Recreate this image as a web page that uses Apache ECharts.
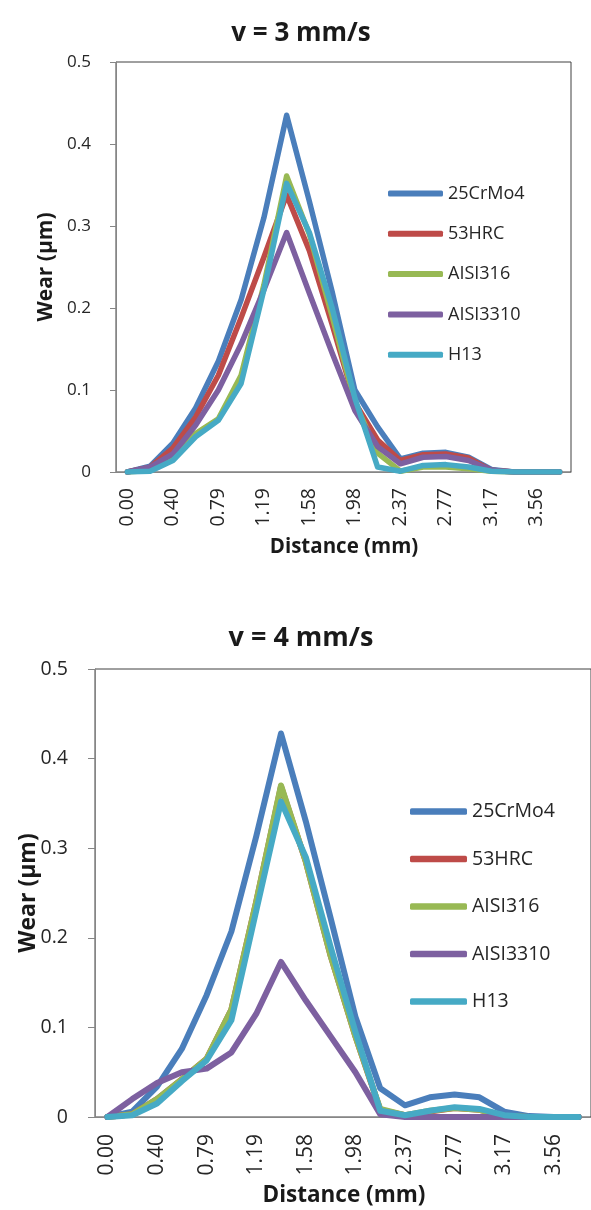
<!DOCTYPE html>
<html>
<head>
<meta charset="utf-8">
<script src="https://cdn.jsdelivr.net/npm/echarts@6/dist/echarts.min.js"></script>
<style>
html,body{margin:0;padding:0;background:#fff;}
#c1{position:absolute;left:0;top:0;width:591px;height:605px;}
#c2{position:absolute;left:0;top:605px;width:591px;height:605px;}
</style>
</head>
<body>
<div id="c1"></div>
<div id="c2"></div>
<script>
// Category labels (Distance, mm)
const distances = ['0.00','0.20','0.40','0.59','0.79','0.99','1.19','1.38','1.58','1.78','1.98','2.18','2.37','2.57','2.77','2.97','3.17','3.36','3.56','3.76'];
const seriesNames = ['25CrMo4','53HRC','AISI316','AISI3310','H13'];
const seriesColors = ['#4A7EBB','#BE4B48','#98B954','#7D60A0','#46AAC5'];
const yTicks = [0, 0.1, 0.2, 0.3, 0.4, 0.5];

// v = 3 mm/s
const v3_25CrMo4 = [0, 0.007, 0.035, 0.078, 0.135, 0.21, 0.31, 0.435, 0.33, 0.22, 0.1, 0.055, 0.016, 0.023, 0.024, 0.018, 0.003, 0, 0, 0];
const v3_53HRC   = [0, 0.006, 0.029, 0.067, 0.118, 0.188, 0.262, 0.338, 0.27, 0.18, 0.085, 0.039, 0.014, 0.021, 0.022, 0.017, 0.002, 0, 0, 0];
const v3_AISI316 = [0, 0.002, 0.016, 0.047, 0.065, 0.118, 0.228, 0.361, 0.29, 0.19, 0.085, 0.023, 0.001, 0.006, 0.006, 0.004, 0.001, 0, 0, 0];
const v3_AISI3310= [0, 0.006, 0.022, 0.057, 0.1, 0.156, 0.222, 0.292, 0.218, 0.145, 0.075, 0.031, 0.01, 0.018, 0.019, 0.014, 0.002, 0, 0, 0];
const v3_H13     = [0, 0.001, 0.014, 0.043, 0.063, 0.108, 0.222, 0.352, 0.292, 0.2, 0.09, 0.006, 0.001, 0.008, 0.009, 0.006, 0.001, 0, 0, 0];

// v = 4 mm/s
const v4_25CrMo4 = [0, 0.006, 0.034, 0.076, 0.136, 0.207, 0.313, 0.428, 0.33, 0.222, 0.112, 0.032, 0.013, 0.022, 0.025, 0.022, 0.006, 0.001, 0, 0];
const v4_53HRC   = [0, 0.003, 0.02, 0.042, 0.065, 0.12, 0.24, 0.369, 0.285, 0.18, 0.09, 0.008, 0.002, 0.006, 0.01, 0.008, 0.001, 0, 0, 0];
const v4_AISI316 = [0, 0.003, 0.02, 0.042, 0.065, 0.12, 0.24, 0.37, 0.285, 0.18, 0.09, 0.009, 0.002, 0.007, 0.01, 0.008, 0.001, 0, 0, 0];
const v4_AISI3310= [0, 0.02, 0.038, 0.05, 0.054, 0.072, 0.115, 0.173, 0.13, 0.09, 0.05, 0.003, 0, 0, 0, 0, 0, 0, 0, 0];
const v4_H13     = [0, 0.002, 0.015, 0.04, 0.063, 0.108, 0.23, 0.352, 0.29, 0.19, 0.095, 0.007, 0.002, 0.007, 0.011, 0.009, 0.002, 0, 0, 0];

const FONT = '"Open Sans", "Liberation Sans", sans-serif';

function build(el, data, L) {
  const chart = echarts.init(el, null, {renderer: 'canvas'});
  chart.setOption({
    animation: false,
    backgroundColor: '#fff',
    grid: {left: L.left, top: L.top, width: L.width, height: L.height, show: true,
           borderColor: '#404040', borderWidth: 1, backgroundColor: 'transparent'},
    legend: {
      orient: 'vertical', left: L.legLeft, top: L.legTop, padding: 0,
      icon: 'roundRect',
      itemWidth: L.legW, itemHeight: L.legH, itemGap: L.legGap,
      data: seriesNames,
      textStyle: {fontFamily: FONT, fontSize: L.legFont, color: '#262626', lineHeight: 20}
    },
    xAxis: {
      type: 'category', data: distances, boundaryGap: true,
      axisLine: {lineStyle: {color: '#868686', width: 1}},
      axisTick: {show: false},
      axisLabel: {interval: 1, rotate: 90, margin: L.xMargin, fontFamily: FONT, fontSize: L.xFont, color: '#262626'},
      splitLine: {show: false}
    },
    yAxis: {
      type: 'value', min: yTicks[0], max: yTicks[yTicks.length-1], interval: 0.1,
      axisLine: {show: true, lineStyle: {color: '#868686', width: 1}},
      axisTick: {show: true, length: L.tickLen, lineStyle: {color: '#868686'}},
      axisLabel: {margin: L.yMargin, fontFamily: FONT, fontSize: L.yFont, color: '#262626'},
      splitLine: {show: false}
    },
    series: seriesNames.map((n, i) => ({
      name: n, type: 'line', data: data[i], symbol: 'none', showSymbol: false,
      itemStyle: {color: seriesColors[i]},
      lineStyle: {width: L.lw, color: seriesColors[i], cap: 'round', join: 'round'}
    })),
    graphic: [
      {type: 'text', x: L.titleX, y: L.titleY, silent: true,
       style: {text: L.title, fontFamily: FONT, fontWeight: 'bold', fontSize: L.titleFont, fill: '#1a1a1a', align: 'center', verticalAlign: 'middle'}},
      {type: 'text', x: L.yNameX, y: L.yNameY, rotation: Math.PI/2, silent: true,
       style: {text: 'Wear (μm)', fontFamily: FONT, fontWeight: 'bold', fontSize: L.yNameFont, fill: '#1a1a1a', align: 'center', verticalAlign: 'middle'}},
      {type: 'text', x: L.xNameX, y: L.xNameY, silent: true,
       style: {text: 'Distance (mm)', fontFamily: FONT, fontWeight: 'bold', fontSize: L.nameFont, fill: '#1a1a1a', align: 'center', verticalAlign: 'middle'}}
    ]
  });
}

build(document.getElementById('c1'),
  [v3_25CrMo4, v3_53HRC, v3_AISI316, v3_AISI3310, v3_H13],
  {left: 116, top: 62, width: 455, height: 410,
   legLeft: 388, legTop: 183.5, legW: 55, legH: 6, legGap: 20.3, legFont: 18,
   xMargin: 16, xFont: 19.5, yMargin: 25, yFont: 17, tickLen: 6, lw: 5.5,
   title: 'v = 3 mm/s', titleX: 301, titleY: 34, titleFont: 26,
   yNameX: 46, yNameY: 267, yNameFont: 21, xNameX: 344, xNameY: 547, nameFont: 20.5});

build(document.getElementById('c2'),
  [v4_25CrMo4, v4_53HRC, v4_AISI316, v4_AISI3310, v4_H13],
  {left: 95, top: 64, width: 499, height: 448,
   legLeft: 410, legTop: 196.5, legW: 57, legH: 6.5, legGap: 27.5, legFont: 19.5,
   xMargin: 17, xFont: 21, yMargin: 27, yFont: 19.5, tickLen: 7, lw: 6,
   title: 'v = 4 mm/s', titleX: 301, titleY: 33, titleFont: 27,
   yNameX: 28, yNameY: 288, yNameFont: 23, xNameX: 344, xNameY: 591, nameFont: 22.5});
</script>
</body>
</html>
